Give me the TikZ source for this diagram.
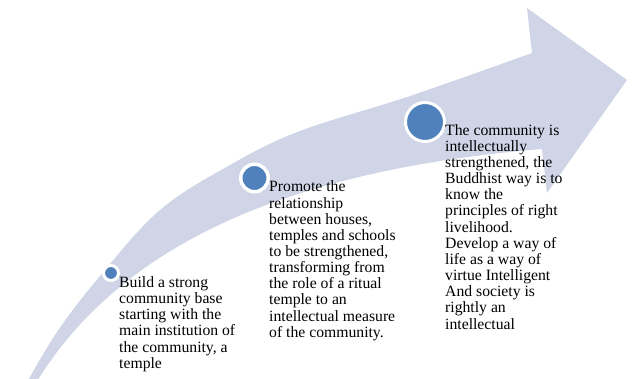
\documentclass[tikz,border=0pt]{standalone}
\usepackage{fontspec}
\setmainfont{Liberation Serif}
\begin{document}
\begin{tikzpicture}[x=1pt,y=-1pt,
  band/.style={fill=bandcol},
  dot/.style={circle,fill=dotcol,draw=white,line width=#1,inner sep=0pt},
  label/.style={anchor=north west,inner sep=0pt,align=left,font=\fontsize{15.7}{16.15}\selectfont}]
\definecolor{bandcol}{RGB}{207,213,230}
\definecolor{dotcol}{RGB}{79,129,189}
\useasboundingbox (0,0) rectangle (637,378);
\clip (0,0) rectangle (637,378);
\fill[band] plot[smooth,tension=0.6] coordinates {(25,386) (57,332) (100,276) (160,210) (230,165) (300,131) (410,96) (532,53)}
  -- (527,8) -- (627,80) -- (547,193) -- (542,149)
  .. controls (290,170) and (120,243) .. (34,386) -- cycle;
\node[dot=3pt,minimum size=15pt] (c1) at (111,273) {};
\node[dot=3.5pt,minimum size=27.5pt] (c2) at (254.5,178) {};
\node[dot=3pt,minimum size=39pt] (c3) at (425,122) {};
\node[label] (t1) at (119,275.9) {\strut Build a strong\\community base\\starting with the\\main institution of\\the community, a\\temple};
\node[label] (t2) at (269,180.4) {\strut Promote the\\relationship\\between houses,\\temples and schools\\to be strengthened,\\transforming from\\the role of a ritual\\temple to an\\intellectual measure\\of the community.};
\node[label] (t3) at (445,123.7) {\strut The community is\\intellectually\\strengthened, the\\Buddhist way is to\\know the\\principles of right\\livelihood.\\Develop a way of\\life as a way of\\virtue Intelligent\\And society is\\rightly an\\intellectual};
\end{tikzpicture}
\end{document}
